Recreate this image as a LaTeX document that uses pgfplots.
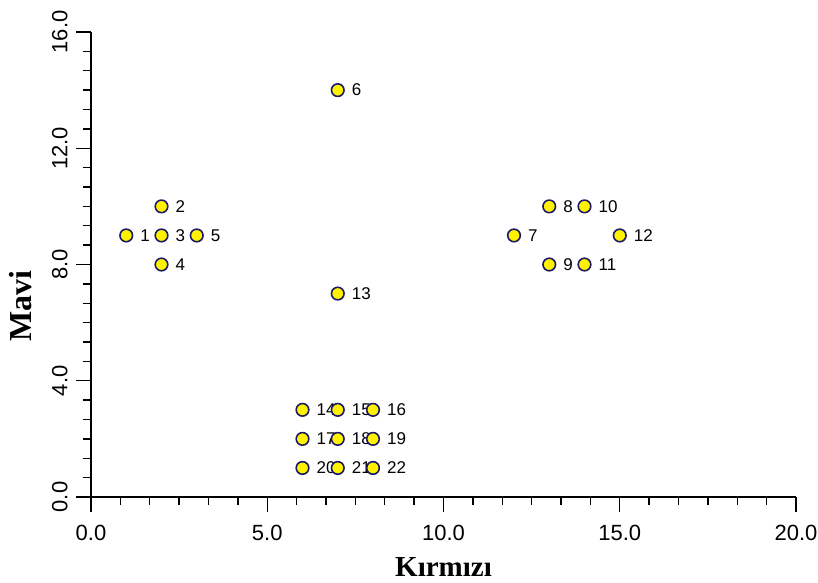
\documentclass[border=0pt]{standalone}
\usepackage{fontspec}
\setmainfont{Liberation Serif}
\setsansfont{Liberation Sans}
\usepackage{pgfplots}
\pgfplotsset{compat=1.18}
\definecolor{mk}{HTML}{1A1A66}
\begin{document}
\begin{tikzpicture}
\begin{axis}[
 scale only axis, width=705pt, height=465pt,
 xmin=0,xmax=20,ymin=0,ymax=16,
 axis lines*=left,
 axis line style={line width=1.4pt},
 xtick={0,5,...,20}, ytick={0,4,...,16},
 minor x tick num=5, minor y tick num=5,
 x tick style={black,line width=1.3pt},
 y tick style={black,line width=1.3pt},
 xtick align=outside, ytick align=outside,
 major tick length=15pt, minor tick length=8pt,
 tick label style={font=\sffamily\fontsize{22}{26}\selectfont},
 /pgf/number format/assume math mode=true,
 /pgf/number format/fixed,
 /pgf/number format/fixed zerofill,
 /pgf/number format/precision=1,
 xticklabel style={yshift=-10pt},
 yticklabel style={xshift=-5pt, rotate=90, anchor=south},
 xlabel={Kırmızı}, ylabel={Mavi},
 xlabel style={font=\bfseries\fontsize{29}{34}\selectfont, at={(axis description cs:0.5,-0.172)},anchor=base},
 ylabel style={font=\bfseries\fontsize{32}{36}\selectfont, at={(axis description cs:-0.0845,0.41)},anchor=base},
 clip=false,
 nodes near coords, point meta=explicit symbolic,
 every node near coord/.style={anchor=west, xshift=10pt, font=\sffamily\fontsize{17}{20}\selectfont, black},
]
\addplot[only marks, mark=*, mark size=6.3pt, mark options={fill=yellow, draw=mk, line width=1.6pt}] table[meta=label] {
x y label
1 9 1
2 10 2
2 9 3
2 8 4
3 9 5
7 14 6
12 9 7
13 10 8
13 8 9
14 10 10
14 8 11
15 9 12
7 7 13
6 3 14
7 3 15
8 3 16
6 2 17
7 2 18
8 2 19
6 1 20
7 1 21
8 1 22
};
\end{axis}
\pgfresetboundingbox
\path[use as bounding box] ([shift={(-91pt,-85pt)}]current axis.south west) rectangle ([shift={(22pt,32pt)}]current axis.north east);
\end{tikzpicture}
\end{document}
